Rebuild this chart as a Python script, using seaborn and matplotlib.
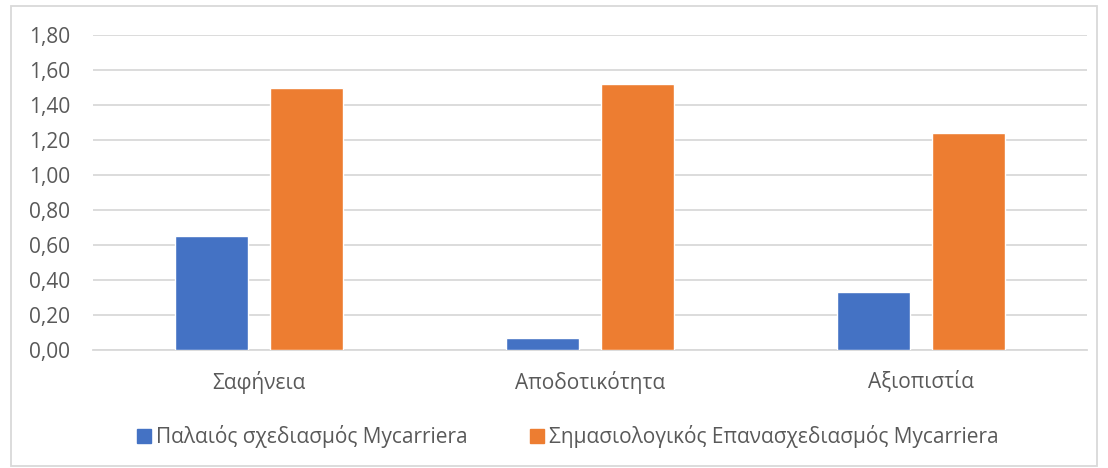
import matplotlib
matplotlib.use("Agg")
import matplotlib.pyplot as plt
import matplotlib.patches as mpatches
import pandas as pd
import seaborn as sns

# Values
categories = ["Σαφήνεια", "Αποδοτικότητα", "Αξιοπιστία"]
series_names = ["Παλαιός σχεδιασμός Mycarriera",
                "Σημασιολογικός Επανασχεδιασμός Mycarriera"]
old_values = [0.65, 0.07, 0.33]
new_values = [1.50, 1.52, 1.24]
yticks = [0.0, 0.2, 0.4, 0.6, 0.8, 1.0, 1.2, 1.4, 1.6, 1.8]

df = pd.DataFrame({
    "cat": categories * 2,
    "series": [series_names[0]] * 3 + [series_names[1]] * 3,
    "value": old_values + new_values,
})

sns.set_theme(style="white")
plt.rcParams['font.family'] = ['Open Sans', 'DejaVu Sans']

fig = plt.figure(figsize=(11.08, 4.68), dpi=100)
ax = fig.add_axes([93 / 1108, 1 - 350 / 468, 994 / 1108, 315 / 468])

sns.barplot(data=df, x="cat", y="value", hue="series", ax=ax,
            palette=["#4472C4", "#ED7D31"], width=0.574, gap=0.23,
            saturation=1, legend=False, zorder=3)

ax.set_ylim(0, 1.8)
ax.set_xlim(-0.5, 2.5)
ax.set_yticks(yticks)
ax.set_yticklabels(["{:.2f}".format(v).replace(".", ",") for v in yticks])
ax.yaxis.grid(True, color="#d9d9d9", linewidth=1.3, zorder=0)
ax.set_axisbelow(True)
for side in ["top", "right", "left"]:
    ax.spines[side].set_visible(False)
ax.spines["bottom"].set_color("#d9d9d9")
ax.spines["bottom"].set_linewidth(1.3)
ax.tick_params(axis="both", length=0, colors="#595959", labelsize=15)
ax.tick_params(axis="y", pad=16.5)
ax.tick_params(axis="x", pad=15)
ax.set_xlabel("")
ax.set_ylabel("")

# Legend below the plot
handles = [mpatches.Patch(color=c) for c in ["#4472C4", "#ED7D31"]]
fig.legend(handles, series_names, loc="center", bbox_to_anchor=(568 / 1108, 1 - 437 / 468),
           ncol=2, frameon=False, fontsize=15, labelcolor="#595959",
           handlelength=0.65, handleheight=0.65, handletextpad=0.25, columnspacing=3.0)

# Chart area border
fig.add_artist(mpatches.Rectangle((11 / 1108, 2 / 468), 1086 / 1108, 460 / 468,
                                  transform=fig.transFigure, fill=False,
                                  edgecolor="#d9d9d9", linewidth=1.3))

fig.savefig("out.png", dpi=100)
